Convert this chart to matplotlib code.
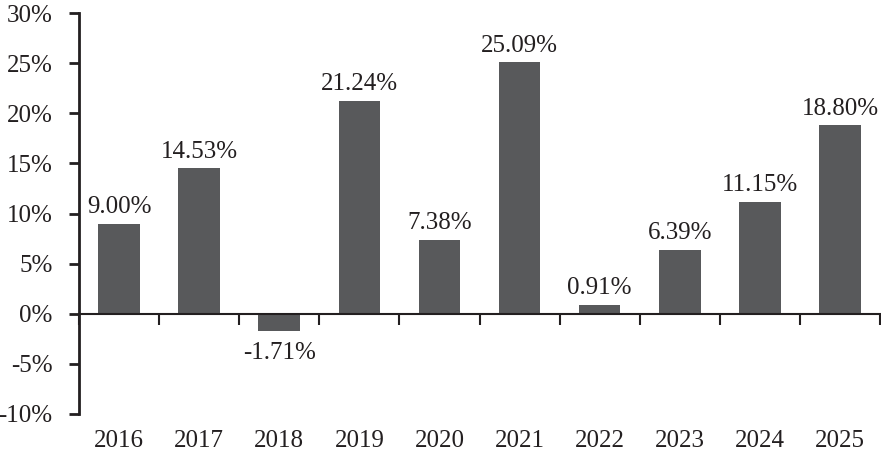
import matplotlib
matplotlib.use("Agg")
import matplotlib.pyplot as plt
import numpy as np

years = ["2016", "2017", "2018", "2019", "2020", "2021", "2022", "2023", "2024", "2025"]
returns = [9.00, 14.53, -1.71, 21.24, 7.38, 25.09, 0.91, 6.39, 11.15, 18.80]
yticks = [-10, -5, 0, 5, 10, 15, 20, 25, 30]

plt.rcParams['font.family'] = ['Liberation Serif', 'DejaVu Serif']

W, H = 881, 458
fig = plt.figure(figsize=(W / 100, H / 100), dpi=100)
ax = fig.add_axes([79 / W, 1 - 414 / H, (880 - 79) / W, (414 - 13) / H])

x = np.arange(len(years))
ax.bar(x, returns, width=0.52, color="#58595b", zorder=2)

ax.set_xlim(-0.5, len(years) - 0.5)
ax.set_ylim(-10, 30)
ax.set_yticks(yticks)
ax.set_yticklabels([f"{v}%" for v in yticks], fontsize=18)
ax.tick_params(axis='y', direction='out', length=7, width=2, pad=12, colors='#231f20')

for s in ['top', 'right']:
    ax.spines[s].set_visible(False)
ax.spines['left'].set_linewidth(2)
ax.spines['left'].set_color('#231f20')
ax.spines['bottom'].set_position(('data', 0))
ax.spines['bottom'].set_linewidth(1.5)
ax.spines['bottom'].set_color('#231f20')

ax.set_xticks(np.arange(len(years) + 1) - 0.5)
ax.set_xticklabels([])
ax.tick_params(axis='x', direction='out', length=8, width=1.5, colors='#231f20')

trans = matplotlib.transforms.blended_transform_factory(ax.transData, ax.transAxes)
for xi, yr in zip(x, years):
    ax.text(xi, -0.068, yr, transform=trans, ha='center', va='center', fontsize=18, color='#231f20')

for xi, v in zip(x, returns):
    if v >= 0:
        ax.annotate(f"{v:.2f}%", (xi, v), xytext=(0, 4), textcoords='offset points',
                    ha='center', va='bottom', fontsize=18, color='#231f20')
    else:
        ax.annotate(f"{v:.2f}%", (xi, v), xytext=(0, -8), textcoords='offset points',
                    ha='center', va='top', fontsize=18, color='#231f20')

fig.savefig("out.png", dpi=100)
